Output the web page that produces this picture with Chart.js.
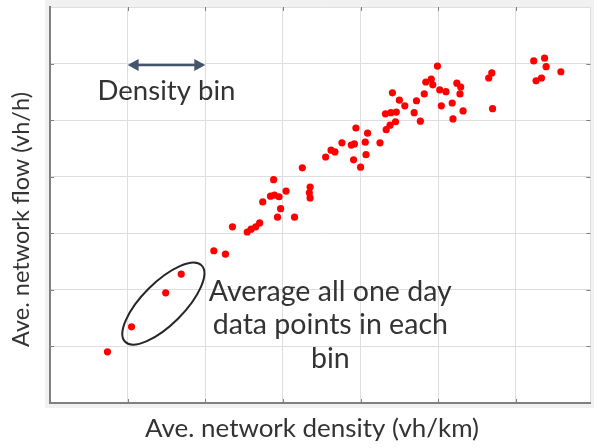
<!DOCTYPE html>
<html>
<head>
<meta charset="utf-8">
<script src="https://cdn.jsdelivr.net/npm/chart.js@4.4.0/dist/chart.umd.min.js"></script>
<style>
  html, body { margin: 0; padding: 0; background: #ffffff; }
</style>
</head>
<body>
<canvas id="myChart" width="594" height="448"></canvas>
<script>
// Network density (vh/km) and flow (vh/h), one dot per observation
const density = [7.4, 10.5, 14.9, 16.9, 21.1, 22.6, 23.5, 25.4, 25.9, 26.5,
    27.0, 27.4, 28.4, 28.9, 29.5, 30.4, 28.8, 29.7, 29.3, 31.5,
    32.5, 33.5, 33.4, 33.5, 35.5, 36.2, 36.7, 37.6, 38.8, 39.2,
    39.4, 40.6, 40.9, 39.1, 40.0, 40.7, 42.5, 43.3, 43.8, 44.5,
    43.2, 43.9, 44.6, 44.1, 45.0, 45.7, 46.9, 47.7, 47.2, 48.2,
    48.4, 49.1, 49.3, 49.9, 50.2, 51.0, 50.4, 51.8, 51.9, 53.2,
    52.4, 52.9, 52.8, 56.5, 56.9, 57.0, 62.3, 63.7, 63.9, 63.3,
    62.6, 65.8];
const flow = [95, 139, 199, 232, 273, 267, 315, 306, 311, 315,
    322, 359, 369, 371, 368, 378, 398, 347, 332, 332,
    419, 385, 375, 366, 438, 450, 447, 463, 459, 461,
    489, 464, 480, 433, 420, 442, 463, 486, 494, 500,
    514, 516, 517, 551, 538, 528, 516, 501, 537, 549,
    570, 575, 565, 598, 556, 553, 528, 533, 505, 519,
    568, 561, 549, 577, 586, 523, 607, 612, 597, 577,
    572, 588];

// Axis ranges (no tick labels are shown, only grid)
const xRange = [0, 69.6];
const yRange = [5, 702];
const xStep = 10;
const yStep = 100;

// Annotation texts
const xTitle = "Ave. network density (vh/km)";
const yTitle = "Ave. network flow (vh/h)";
const binLabel = "Density bin";
const noteLines = ["Average all one day", "data points in each", "bin"];

const textColor = "#333333";
const fontFamily = "Lato";

// Scale a font so that text fills the given width
function fitSize(ctx, text, width) {
    ctx.font = `100px ${fontFamily}`;
    return 100 * width / ctx.measureText(text).width;
}

function arrowHead(ctx, x, y, dir) {
    ctx.beginPath();
    ctx.moveTo(x, y);
    ctx.lineTo(x - dir * 11, y - 6);
    ctx.lineTo(x - dir * 11, y + 6);
    ctx.closePath();
    ctx.fill();
}

const overlay = {
    id: "overlay",
    beforeDraw(chart) {
        const ctx = chart.ctx;
        const a = chart.chartArea;
        // light grey figure background peeking round the axes box
        ctx.save();
        ctx.fillStyle = "#f1f1f1";
        ctx.fillRect(a.left - 5, 0, chart.width - a.left + 5, a.bottom + 5);
        ctx.fillStyle = "#ffffff";
        ctx.fillRect(a.left, a.top, a.right - a.left, a.bottom - a.top);
        ctx.restore();
    },
    afterDraw(chart) {
        const ctx = chart.ctx;
        const a = chart.chartArea;
        const xs = chart.scales.x;
        const ys = chart.scales.y;
        ctx.save();

        // inward tick marks on all four sides
        ctx.strokeStyle = "#7f7f7f";
        ctx.lineWidth = 1;
        ctx.beginPath();
        xs.ticks.forEach(t => {
            if (t.value <= xRange[0] || t.value >= xRange[1]) return;
            const px = Math.round(xs.getPixelForValue(t.value)) + 0.5;
            ctx.moveTo(px, a.bottom); ctx.lineTo(px, a.bottom - 4);
            ctx.moveTo(px, a.top); ctx.lineTo(px, a.top + 4);
        });
        ys.ticks.forEach(t => {
            if (t.value <= yRange[0] || t.value >= yRange[1]) return;
            const py = Math.round(ys.getPixelForValue(t.value)) + 0.5;
            ctx.moveTo(a.left, py); ctx.lineTo(a.left + 4, py);
            ctx.moveTo(a.right, py); ctx.lineTo(a.right - 4, py);
        });
        ctx.stroke();

        // double arrow spanning one density bin
        const ax0 = xs.getPixelForValue(10);
        const ax1 = xs.getPixelForValue(20);
        const ay = ys.getPixelForValue(600);
        ctx.strokeStyle = "#44546a";
        ctx.fillStyle = "#44546a";
        ctx.lineWidth = 2.5;
        ctx.beginPath();
        ctx.moveTo(ax0 + 6, ay);
        ctx.lineTo(ax1 - 6, ay);
        ctx.stroke();
        arrowHead(ctx, ax0, ay, -1);
        arrowHead(ctx, ax1, ay, 1);

        ctx.fillStyle = textColor;
        ctx.textAlign = "center";
        ctx.textBaseline = "alphabetic";
        let size = fitSize(ctx, binLabel, 138);
        ctx.font = `${size}px ${fontFamily}`;
        ctx.fillText(binLabel, (ax0 + ax1) / 2, ay + 35);

        // ellipse round the first bin's points
        const ex = xs.getPixelForValue(14.6);
        const ey = ys.getPixelForValue(180);
        ctx.strokeStyle = "#262626";
        ctx.lineWidth = 2;
        ctx.beginPath();
        ctx.ellipse(ex, ey, 54, 21, -Math.PI / 4, 0, Math.PI * 2);
        ctx.stroke();

        // note text
        size = fitSize(ctx, noteLines[0], 243);
        ctx.font = `${size}px ${fontFamily}`;
        const nx = xs.getPixelForValue(36.1);
        const ny = ys.getPixelForValue(185);
        noteLines.forEach((line, i) => {
            ctx.fillText(line, nx, ny + i * 33.5);
        });

        // axis titles
        size = fitSize(ctx, xTitle, 334);
        ctx.font = `${size}px ${fontFamily}`;
        ctx.fillText(xTitle, 312, 437);
        size = fitSize(ctx, yTitle, 255);
        ctx.font = `${size}px ${fontFamily}`;
        ctx.translate(29, 219.5);
        ctx.rotate(-Math.PI / 2);
        ctx.fillText(yTitle, 0, 0);

        ctx.restore();
    }
};

window.onload = function() {
    const ctx = document.getElementById("myChart");
    const points = density.map((d, i) => ({ x: d, y: flow[i] }));

    new Chart(ctx, {
        type: "scatter",
        data: {
            datasets: [{
                data: points,
                backgroundColor: "#ff0000",
                borderWidth: 0,
                pointRadius: 3.6,
                pointHoverRadius: 3.6
            }]
        },
        options: {
            responsive: false,
            animation: false,
            events: [],
            layout: { padding: { top: 7, right: 2, left: 0, bottom: 0 } },
            plugins: {
                legend: { display: false },
                tooltip: { enabled: false }
            },
            scales: {
                x: {
                    type: "linear",
                    min: xRange[0],
                    max: xRange[1],
                    ticks: { display: false, stepSize: xStep },
                    grid: { color: "#dedede", lineWidth: 1, drawTicks: false },
                    border: { color: "#808080", width: 2 },
                    afterFit: (scale) => { scale.height = 45; }
                },
                y: {
                    type: "linear",
                    min: yRange[0],
                    max: yRange[1],
                    ticks: { display: false, stepSize: yStep },
                    grid: { color: "#dedede", lineWidth: 1, drawTicks: false },
                    border: { color: "#808080", width: 2 },
                    afterFit: (scale) => { scale.width = 50; }
                }
            }
        },
        plugins: [overlay]
    });
};
</script>
</body>
</html>
